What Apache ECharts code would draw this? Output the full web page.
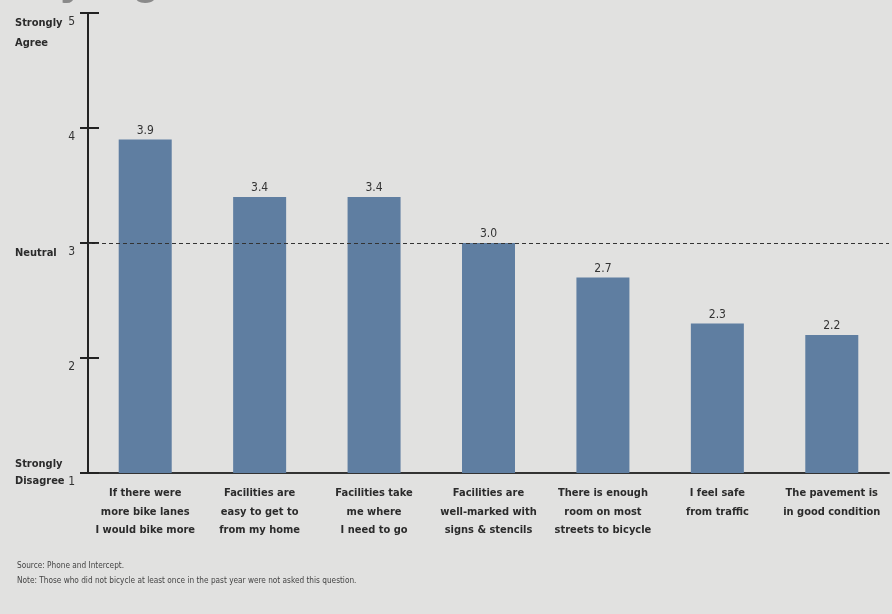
<!DOCTYPE html>
<html>
<head>
<meta charset="utf-8">
<script src="https://cdn.jsdelivr.net/npm/echarts@6/dist/echarts.min.js"></script>
<style>
html,body{margin:0;padding:0;background:#e1e1e0;}
#c{width:892px;height:614px;}
</style>
</head>
<body>
<div id="c"></div>
<script>
const categories = [
  'If there were\nmore bike lanes\nI would bike more',
  'Facilities are\neasy to get to\nfrom my home',
  'Facilities take\nme where\nI need to go',
  'Facilities are\nwell-marked with\nsigns & stencils',
  'There is enough\nroom on most\nstreets to bicycle',
  'I feel safe\nfrom traffic',
  'The pavement is\nin good condition'
];
const values = [3.9, 3.4, 3.4, 3.0, 2.7, 2.3, 2.2];
const yMin = 1, yMax = 5, yInterval = 1;
const neutralValue = 3;
const scaleWordsTop = {5: 'Strongly\nAgree', 3: 'Neutral'};
const scaleWordsBottom = {1: 'Strongly\nDisagree'};
const titleText = 'By Agreement';
const sourceText = 'Source: Phone and Intercept.';
const noteText = 'Note: Those who did not bicycle at least once in the past year were not asked this question.';

const FONT = "'Liberation Sans Narrow', 'DejaVu Sans Condensed', 'Noto Sans', sans-serif";
const DARK = '#2b2b2b';
const FS = 11;

const chart = echarts.init(document.getElementById('c'), null, {renderer: 'canvas'});

function baseY(extra) {
  return Object.assign({
    type: 'value', min: yMin, max: yMax, interval: yInterval,
    position: 'left',
    splitLine: {show: false},
    axisLine: {show: false},
    axisTick: {show: false},
    axisLabel: {show: false}
  }, extra);
}

chart.setOption({
  backgroundColor: '#e1e1e0',
  animation: false,
  textStyle: {fontFamily: FONT},
  title: [
    {text: sourceText, left: 12, top: 557, textStyle: {fontSize: 8.2, fontWeight: 'normal', color: '#444', fontFamily: FONT}},
    {text: noteText, left: 12, top: 572, textStyle: {fontSize: 8.2, fontWeight: 'normal', color: '#444', fontFamily: FONT}}
  ],
  graphic: [{
    type: 'text', left: 27, top: -43,
    style: {text: titleText, fontSize: 46, fontWeight: 'bold', fill: '#8a8a8a', fontFamily: "'Liberation Sans', sans-serif"}
  }],
  grid: {left: 88, right: 3, top: 13, bottom: 141, containLabel: false},
  xAxis: {
    type: 'category',
    data: categories,
    axisLine: {show: true, onZero: false, lineStyle: {color: '#333', width: 2}},
    axisTick: {show: false},
    axisLabel: {interval: 0, color: DARK, fontWeight: 'bold', fontSize: FS, lineHeight: 18.5, margin: 11, fontFamily: FONT}
  },
  yAxis: [
    baseY({
      axisLine: {show: true, lineStyle: {color: '#222', width: 2}},
      axisTick: {show: true, length: 8, lineStyle: {color: '#222', width: 2}},
      axisLabel: {show: true, color: '#333', fontSize: 12, margin: 13, verticalAlign: 'top', lineHeight: 18, fontFamily: FONT}
    }),
    baseY({
      axisTick: {show: true, inside: true, length: 11, lineStyle: {color: '#222', width: 2}}
    }),
    baseY({
      axisLabel: {show: true, align: 'left', margin: 73, verticalAlign: 'top', lineHeight: 20,
        color: DARK, fontWeight: 'bold', fontSize: FS, fontFamily: FONT,
        formatter: v => scaleWordsTop[v] || ''}
    }),
    baseY({
      axisLabel: {show: true, align: 'left', margin: 73, verticalAlign: 'middle', lineHeight: 17,
        color: DARK, fontWeight: 'bold', fontSize: FS, fontFamily: FONT, padding: [19, 0, 0, 0],
        formatter: v => scaleWordsBottom[v] || ''}
    })
  ],
  series: [{
    type: 'bar',
    data: values,
    barWidth: 53,
    itemStyle: {color: '#5f7ea1'},
    label: {show: true, position: 'top', distance: 3, color: '#333', fontSize: 12, fontFamily: FONT,
      formatter: p => p.value.toFixed(1)},
    markLine: {
      silent: true, symbol: 'none', label: {show: false},
      lineStyle: {color: '#333', type: [4, 3], width: 1.2},
      data: [{yAxis: neutralValue}],
      z: 10
    }
  }]
});
</script>
</body>
</html>
